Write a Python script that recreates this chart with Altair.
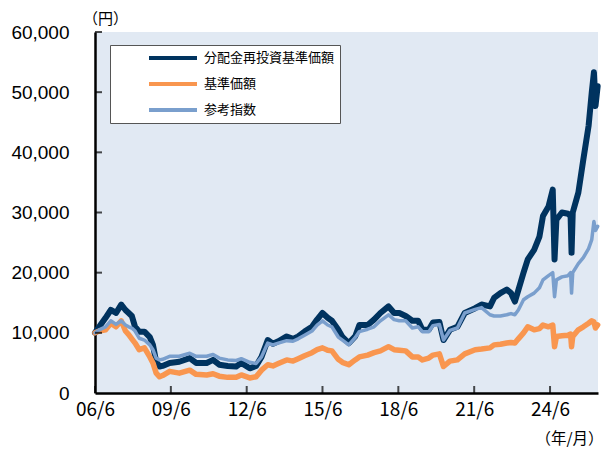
import altair as alt
import pandas as pd

# ---------------- data ----------------
dates = [
    "2006-06-01", "2006-08-01", "2006-11-01", "2007-01-15", "2007-04-01", "2007-06-15",
    "2007-08-15", "2007-10-01", "2007-11-15", "2008-01-01", "2008-03-01", "2008-05-15",
    "2008-08-01", "2008-09-15", "2008-11-01", "2008-12-20", "2009-02-01", "2009-05-15",
    "2009-10-01", "2010-03-01", "2010-06-01", "2010-11-01", "2011-02-01", "2011-05-01",
    "2011-09-01", "2012-01-01", "2012-03-15", "2012-07-15", "2012-10-15", "2013-01-01",
    "2013-04-01", "2013-06-15", "2013-09-01", "2013-12-31", "2014-04-01", "2014-06-15",
    "2014-09-15", "2014-12-31", "2015-03-15", "2015-06-01", "2015-08-15", "2015-10-15",
    "2016-01-15", "2016-03-15", "2016-06-15", "2016-09-15", "2016-11-15", "2017-03-15",
    "2017-06-15", "2017-09-15", "2018-01-10", "2018-04-01", "2018-06-15", "2018-09-15",
    "2018-12-20", "2019-03-15", "2019-05-15", "2019-08-15", "2019-10-15", "2020-01-15",
    "2020-03-15", "2020-06-15", "2020-10-01", "2021-01-15", "2021-06-15", "2021-09-15",
    "2022-01-15", "2022-03-15", "2022-06-15", "2022-09-15", "2022-11-15", "2023-01-10",
    "2023-03-01", "2023-05-15", "2023-07-15", "2023-10-15", "2023-12-31", "2024-02-20",
    "2024-05-10", "2024-07-10", "2024-08-05", "2024-09-01", "2024-11-20", "2025-02-15",
    "2025-03-25", "2025-04-08", "2025-04-25", "2025-07-15", "2025-09-25", "2025-12-10",
    "2026-01-25", "2026-02-25", "2026-03-20", "2026-04-20",
]

nav_reinvested = [
    10000, 11000, 12500, 13800, 13300, 14700,
    13800, 13300, 12800, 11000, 10200, 10200,
    9300, 8000, 5200, 4400, 4500, 5000,
    5200, 5800, 5000, 5000, 5500, 4700,
    4500, 4400, 5000, 4100, 4500, 6000,
    8800, 8200, 8600, 9400, 9000, 9400,
    10200, 11000, 12200, 13300, 12500, 12000,
    10500, 9300, 8300, 9400, 11300, 11300,
    12200, 13300, 14400, 13300, 13300, 12800,
    12000, 12000, 10500, 10500, 11700, 11800,
    8800, 10500, 11000, 13300, 14100, 14700,
    14400, 15800, 16600, 17200, 16600, 15200,
    17100, 20000, 22200, 23800, 26000, 29400,
    31000, 33800, 22200, 28800, 30000, 29800,
    29400, 23300, 30000, 33300, 38800, 44400,
    50000, 53300, 47700, 51000,
]

nav = [
    10000, 10300, 10500, 11600, 11000, 12000,
    10300, 9700, 9000, 8300, 7200, 7500,
    6000, 5000, 3300, 2700, 2900, 3600,
    3300, 3800, 3100, 3000, 3200, 2800,
    2600, 2600, 3000, 2500, 2700, 3800,
    4700, 4500, 4900, 5500, 5300, 5700,
    6200, 6700, 7200, 7500, 7100, 7000,
    5600, 5100, 4700, 5500, 6000, 6300,
    6700, 7000, 7700, 7200, 7100, 7000,
    6000, 6000, 5500, 5800, 6300, 6500,
    4400, 5300, 5500, 6500, 7200, 7300,
    7500, 8000, 8100, 8300, 8400, 8300,
    9000, 10000, 11000, 10500, 10700, 11300,
    11000, 11300, 7700, 9400, 9500, 9600,
    9800, 7700, 9400, 10500, 11000, 11600,
    12000, 11800, 10800, 11300,
]

benchmark = [
    10000, 10500, 11000, 12000, 11400, 12000,
    11300, 11000, 10800, 10300, 9100, 8800,
    8000, 7200, 5800, 5500, 5600, 6100,
    6100, 6600, 6100, 6100, 6400, 5800,
    5500, 5400, 5700, 5100, 4900, 6000,
    8300, 8000, 8300, 8700, 8600, 9000,
    9600, 10300, 11300, 12000, 11300, 11000,
    9300, 8800, 8000, 9200, 10200, 10600,
    11000, 12000, 13000, 12200, 12000, 12000,
    10800, 11000, 10200, 10200, 11200, 11400,
    8800, 10400, 10800, 13300, 13900, 14200,
    13000, 12800, 12800, 13000, 13200, 13000,
    13800, 15500, 16000, 16600, 17500, 18800,
    19500, 20000, 16000, 18800, 19300, 19500,
    20000, 16600, 20000, 21500, 22500, 24000,
    25500, 28500, 27000, 27700,
]

series_names = ["分配金再投資基準価額", "基準価額", "参考指数"]
series_values = [nav_reinvested, nav, benchmark]
series_colors = ["#00335f", "#f9964f", "#7a9fcd"]
series_widths = [6, 5.5, 3.5]

y_ticks = [0, 10000, 20000, 30000, 40000, 50000, 60000]
x_tick_years = [2006, 2009, 2012, 2015, 2018, 2021, 2024]
x_tick_labels = ["06/6", "09/6", "12/6", "15/6", "18/6", "21/6", "24/6"]

# ---------------- build table ----------------
rows = []
for name, vals in zip(series_names, series_values):
    for d, v in zip(dates, vals):
        rows.append({"date": d, "value": v, "series": name})
df = pd.DataFrame(rows)

x_tick_df = pd.DataFrame({"date": [f"{y}-06-01" for y in x_tick_years]})
y_tick_df = pd.DataFrame({"value": y_ticks[1:]})

W, H = 503, 361
BG = "#e1e9f3"

labels_js = "[" + ",".join(f"'{l}'" for l in x_tick_labels) + "]"
label_expr = f"{labels_js}[round((utcyear(datum.value)-{x_tick_years[0]})/3)]"

x_scale = alt.Scale(
    type="utc",
    domain=[alt.DateTime(year=2006, month=6, date=1, utc=True),
            alt.DateTime(year=2026, month=4, date=25, utc=True)],
)
y_scale = alt.Scale(domain=[0, 60000], nice=False, zero=True)

x_axis = alt.Axis(
    values=[alt.DateTime(year=y, month=6, date=1, utc=True) for y in x_tick_years],
    labelExpr=label_expr,
    labelFont="Noto Sans CJK JP", labelFontSize=19, labelColor="#000000",
    labelPadding=7, labelFlush=False,
    ticks=False, grid=False,
    domainColor="#000000", domainWidth=2.5,
    title="（年/月）", titleFont="Noto Sans CJK JP", titleFontSize=15.5,
    titleFontWeight="normal", titleColor="#000000",
    titleAngle=0, titleAlign="center", titleBaseline="middle",
    titleX=474, titleY=45,
)
y_axis = alt.Axis(
    values=y_ticks, format=",.0f",
    labelFont="Liberation Sans", labelFontSize=19, labelColor="#000000",
    labelPadding=26,
    ticks=False, grid=False,
    domainColor="#000000", domainWidth=2.5,
    title="（円）", titleFont="Noto Sans CJK JP", titleFontSize=15,
    titleFontWeight="normal", titleColor="#000000",
    titleAngle=0, titleAlign="center", titleBaseline="middle",
    titleX=10, titleY=-14,
)

color = alt.Color(
    "series:N",
    scale=alt.Scale(domain=series_names, range=series_colors),
    legend=alt.Legend(
        title=None, orient="none", legendX=15, legendY=13,
        direction="vertical", symbolType="stroke", symbolSize=2304,
        symbolStrokeWidth=4, symbolOffset=32, labelOffset=5,
        clipHeight=16, rowPadding=10, padding=5,
        labelFont="Noto Sans CJK JP", labelFontSize=13, labelColor="#000000",
        fillColor="#ffffff", strokeColor="#555555",
    ),
)

X = alt.X("date:T", scale=x_scale, axis=x_axis)
Y = alt.Y("value:Q", scale=y_scale, axis=y_axis)

layers = []
for name, w in zip(series_names, series_widths):
    layers.append(
        alt.Chart(df)
        .transform_filter(alt.datum.series == name)
        .mark_line(strokeWidth=w, strokeJoin="round", strokeCap="round")
        .encode(x=X, y=Y, color=color)
    )

x_ticks = alt.Chart(x_tick_df).mark_tick(
    orient="vertical", color="#000000", thickness=2, size=7
).encode(x=X, y=alt.value(H - 3.5))

y_ticks_layer = alt.Chart(y_tick_df).mark_tick(
    orient="horizontal", color="#000000", thickness=2, size=7
).encode(y=Y, x=alt.value(3.5))

chart = (
    alt.layer(*layers, x_ticks, y_ticks_layer)
    .properties(
        width=W, height=H,
        padding={"left": 87, "top": 24, "right": 8, "bottom": 56},
        autosize=alt.AutoSizeParams(type="none"),
        background="#ffffff",
    )
    .configure_view(stroke=None, fill=BG)
)

chart.save("out.html", embed_options={"renderer": "svg", "actions": False})
